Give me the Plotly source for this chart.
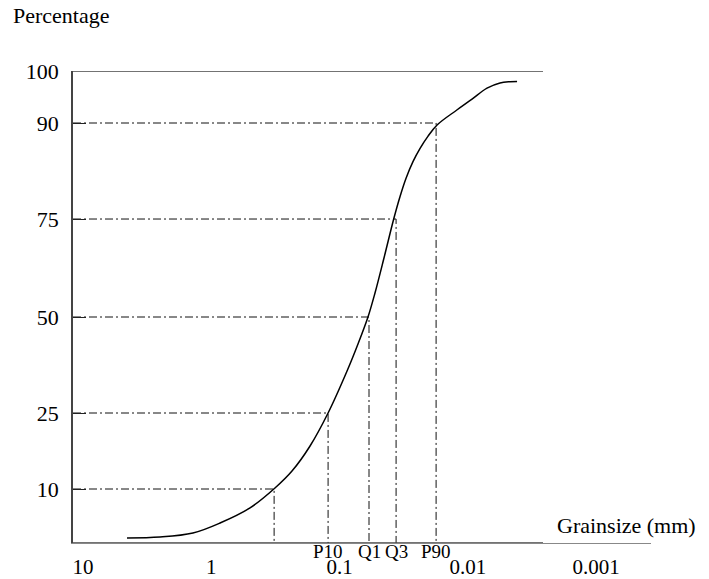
import numpy as np
import plotly.graph_objects as go

# ---------------- data ----------------
grain_size_mm = [4.54, 2.51, 1.39, 0.855, 0.499, 0.319, 0.235, 0.170, 0.123, 0.0875,
                 0.0719, 0.0601, 0.0530, 0.0451, 0.0377, 0.0338, 0.0304, 0.0268,
                 0.0236, 0.0205, 0.0174, 0.0122, 0.00929, 0.0071, 0.00562, 0.0047, 0.00414]
cum_percent = [0.93, 1.1, 1.85, 3.7, 6.5, 10.2, 13.55, 18.49, 25.0, 35.94,
               42.97, 50.0, 56.12, 65.05, 75.16, 78.53, 81.34, 83.97,
               86.05, 87.92, 89.69, 92.5, 94.6, 96.7, 97.7, 97.94, 97.98]

quantile_percent = [10, 25, 50, 75, 90]
quantile_size_mm = [0.324, 0.123, 0.059, 0.0363, 0.0177]
quantile_labels = ["", "P10", "Q1", "Q3", "P90"]

x_tick_values = [10, 1, 0.1, 0.01, 0.001]
x_tick_labels = ["10", "1", "0.1", "0.01", "0.001"]
y_tick_values = [10, 25, 50, 75, 90, 100]

# -------- custom (non-linear) percentage scale of the diagram --------
SCALE_PCT = [0, 10, 25, 50, 75, 90, 100]
SCALE_POS = [0, 11.44, 27.54, 47.88, 68.64, 88.98, 100]


def to_scale(p):
    return np.interp(p, SCALE_PCT, SCALE_POS)


FONT = "Liberation Serif"
XRANGE = [1.078, -3.427]  # log10, reversed (coarse -> fine)
x_left = 10 ** XRANGE[0]
DASH = "8px,3px,2px,3px"

fig = go.Figure()

# guide lines (horizontal to the curve, vertical down to the axis)
for p, s in zip(quantile_percent, quantile_size_mm):
    fig.add_trace(go.Scatter(x=[x_left, s, s], y=[to_scale(p), to_scale(p), 0],
                             mode="lines", hoverinfo="skip", showlegend=False,
                             line=dict(color="#111", width=1, dash=DASH)))

# cumulative curve
fig.add_trace(go.Scatter(x=grain_size_mm, y=to_scale(cum_percent), mode="lines",
                         line=dict(color="black", width=1.5, shape="spline", smoothing=1.0),
                         showlegend=False))

# quantile labels under the axis
annotations = []
for s, lab in zip(quantile_size_mm, quantile_labels):
    if lab:
        annotations.append(dict(x=np.log10(s), y=0, xref="x", yref="y", text=lab,
                                showarrow=False, xanchor="center", yanchor="top",
                                yshift=4, font=dict(family=FONT, size=19, color="black")))

annotations.append(dict(x=-0.107, y=1.118, xref="paper", yref="paper", text="Percentage",
                        showarrow=False, xanchor="left", yanchor="middle",
                        font=dict(family=FONT, size=22, color="black")))
annotations.append(dict(x=1.081, y=0.038, xref="paper", yref="paper", text="Grainsize (mm)",
                        showarrow=False, xanchor="right", yanchor="middle",
                        font=dict(family=FONT, size=22, color="black")))

right_frac = (543 - 73) / 578
shapes = [
    # top frame line at 100 %
    dict(type="line", xref="paper", yref="y", x0=0, x1=right_frac,
         y0=to_scale(100), y1=to_scale(100), line=dict(color="#444", width=1.5)),
    # darker main part of the bottom axis
    dict(type="line", xref="paper", yref="y", x0=0, x1=right_frac,
         y0=0, y1=0, line=dict(color="#444", width=1.5)),
]

fig.update_layout(
    width=701, height=571,
    margin=dict(l=65, r=58, t=63, b=36),
    paper_bgcolor="white", plot_bgcolor="white",
    font=dict(family=FONT, size=22, color="black"),
    annotations=annotations, shapes=shapes,
    xaxis=dict(type="log", range=XRANGE, tickvals=x_tick_values, ticktext=x_tick_labels,
               showgrid=False, zeroline=False, showline=True, linecolor="#888", linewidth=1,
               ticks="", ticklabelstandoff=5, automargin=False,
               tickfont=dict(family=FONT, size=21, color="black")),
    yaxis=dict(range=[0, 100], tickvals=list(to_scale(y_tick_values)),
               ticktext=[str(v) for v in y_tick_values],
               showgrid=False, zeroline=False, showline=True, linecolor="#444", linewidth=1.5,
               ticks="inside", ticklen=13, tickcolor="#222", tickwidth=1,
               ticklabelstandoff=8, automargin=False,
               tickfont=dict(family=FONT, size=22, color="black")),
)

fig.write_html("out.html")
